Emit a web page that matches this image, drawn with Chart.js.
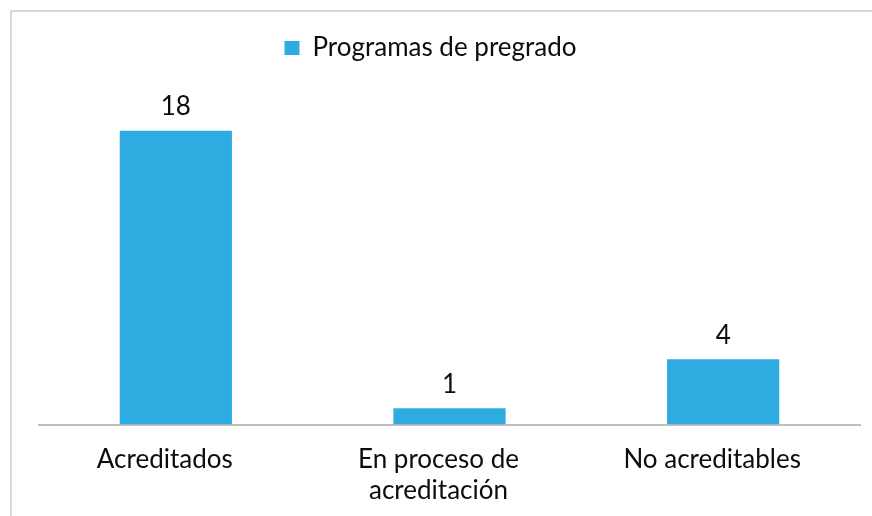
<!DOCTYPE html>
<html>
<head>
<meta charset="utf-8">
<script src="https://cdn.jsdelivr.net/npm/chart.js@4/dist/chart.umd.min.js"></script>
<style>
  html, body { margin: 0; padding: 0; background: #fff; overflow: hidden; }
  #frame {
    position: absolute; left: 10px; top: 10px;
    width: 900px; height: 600px;
    border: 2px solid #d9d9d9;
  }
  #wrap { position: absolute; left: 0; top: 0; width: 872px; height: 516px; }
</style>
</head>
<body>
<div id="frame"></div>
<div id="wrap"><canvas id="barChart" width="872" height="516"></canvas></div>
<script>
// datos del gráfico
const categorias = [["Acreditados"], ["En proceso de", "acreditación"], ["No acreditables"]];
const programas = [18, 1, 4];
const serieNombre = "Programas de pregrado";

const colorBarra = "#2eace2";
const colorTexto = "#0d0d0d";
const fuente = "Lato, 'Open Sans', sans-serif";

/**
 * Etiquetas de valor encima de cada barra + ajuste de la leyenda
 */
const etiquetasValor = {
  id: "etiquetasValor",
  beforeLayout(chart) {
    const lg = chart.legend;
    if (lg && !lg._ajustada) {
      const fitOrig = lg.fit;
      lg.fit = function () {
        fitOrig.call(this);
        this.height += 27;
      };
      lg._ajustada = true;
    }
  },
  beforeDraw(chart) {
    const lg = chart.legend;
    if (lg) {
      lg.left = 7;
      lg.right = 854;
      lg.adjustHitBoxes();
    }
  },
  afterDatasetsDraw(chart) {
    const ctx = chart.ctx;
    const meta = chart.getDatasetMeta(0);
    ctx.save();
    ctx.font = "26px " + fuente;
    ctx.fillStyle = colorTexto;
    ctx.textAlign = "center";
    ctx.textBaseline = "middle";
    meta.data.forEach((bar, i) => {
      ctx.fillText(String(chart.data.datasets[0].data[i]), bar.x, bar.y - 24);
    });
    ctx.restore();
  },
};

const ctx = document.getElementById("barChart").getContext("2d");
new Chart(ctx, {
  type: "bar",
  data: {
    labels: categorias,
    datasets: [
      {
        label: serieNombre,
        data: programas,
        backgroundColor: colorBarra,
        barPercentage: 0.82,
        categoryPercentage: 0.5,
      },
    ],
  },
  options: {
    responsive: false,
    animation: false,
    layout: { padding: { top: 0, left: 39, right: 12, bottom: -9 } },
    plugins: {
      legend: {
        display: true,
        position: "top",
        labels: {
          boxWidth: 15,
          boxHeight: 14,
          color: colorTexto,
          padding: 35,
          font: { size: 26, family: fuente },
        },
      },
      tooltip: { enabled: false },
    },
    scales: {
      x: {
        grid: { display: false, drawTicks: false },
        border: { display: true, color: "#bfbfbf", width: 2 },
        ticks: {
          color: colorTexto,
          padding: 19,
          labelOffset: -11,
          maxRotation: 0,
          font: { size: 26, family: fuente, lineHeight: 1.2 },
        },
      },
      y: {
        display: false,
        min: 0,
        max: 20,
      },
    },
  },
  plugins: [etiquetasValor],
});
</script>
</body>
</html>
